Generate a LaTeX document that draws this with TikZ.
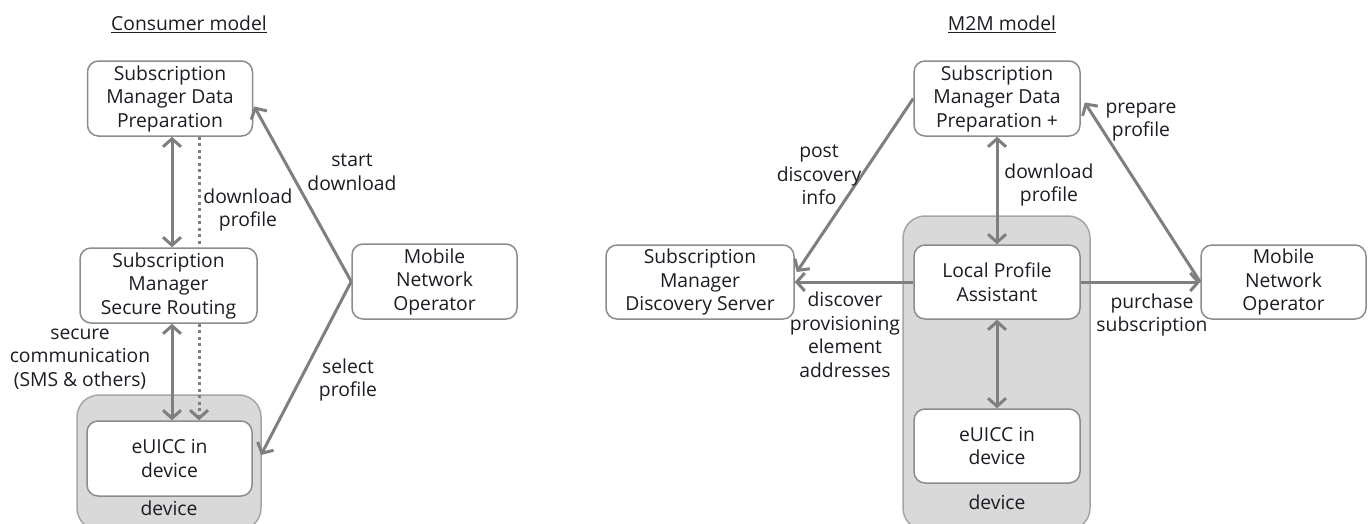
\documentclass[tikz,border=0pt]{standalone}
\usepackage{fontspec}
\setmainfont{Open Sans}
\usetikzlibrary{arrows.meta,calc}
\definecolor{txt}{HTML}{1C1C24}
\definecolor{arrowgray}{HTML}{7F7F7F}
\definecolor{boxline}{HTML}{8C8C8C}
\definecolor{devfill}{HTML}{D9D9D9}
\definecolor{devline}{HTML}{A6A6A6}
\tikzset{
  every node/.style={text=txt, font=\fontsize{19.3}{23.5}\selectfont, align=center, inner sep=0pt},
  entity/.style={draw=boxline, line width=1.5pt, fill=white, rounded corners=11pt},
  devicebox/.style={draw=devline, line width=1.5pt, fill=devfill, rounded corners=22pt},
  conn/.style={draw=arrowgray, line width=3pt},
  tip/.style={-{Straight Barb[length=8pt,width=18pt,line width=3pt]}},
  bothtips/.style={{Straight Barb[length=8pt,width=18pt,line width=3pt]}-{Straight Barb[length=8pt,width=18pt,line width=3pt]}},
  dotline/.style={draw=arrowgray, line width=3pt, dash pattern=on 3pt off 3.5pt},
}
\begin{document}
\begin{tikzpicture}[x=1pt,y=-1pt]
\useasboundingbox (0,0) rectangle (1372,523);
\begin{scope}
\clip (0,0) rectangle (1372,523);

% ---------- Consumer model ----------
\node (titleL) at (189,24) {\underline{Consumer model}};

\draw[devicebox] (77,395) rectangle (261,530);
\node (devL) at (169,508) {device};
\coordinate (devLeast) at (261,455);

\node[entity, minimum width=165pt, minimum height=75pt] (smdp) at (170,98.5)
  {Subscription\\Manager Data\\Preparation};
\node[entity, minimum width=177pt, minimum height=75pt] (smsr) at (168.5,285.5)
  {Subscription\\Manager\\Secure Routing};
\node[entity, minimum width=165pt, minimum height=75pt] (mno) at (434.5,281.5)
  {Mobile\\Network\\Operator};
\node[entity, minimum width=165pt, minimum height=75pt] (eul) at (169.5,458.5)
  {eUICC in\\device};

\coordinate (xa) at (172,0);
\coordinate (xb) at (199,0);

\draw[conn, bothtips] (smdp.south -| xa) -- (smsr.north -| xa);
\draw[conn, bothtips] (smsr.south -| xa) -- (eul.north -| xa);
\draw[dotline] (smdp.south -| xb) -- (smsr.north -| xb);
\draw[dotline, tip] (smsr.south -| xb) -- (eul.north -| xb);
\draw[conn, tip] (mno.west) -- ($(smdp.east)+(1,8)$);
\draw[conn, tip] (mno.west) -- (devLeast);

\node (l1) at (248,210) {download\\profile};
\node (l2) at (352,172) {start\\download};
\node (l3) at (348,380) {select\\profile};
\node (l4) at (80,359) {secure\\communication\\(SMS \& others)};

% ---------- M2M model ----------
\node (titleR) at (1002,24) {\underline{M2M model}};

\draw[devicebox] (903,216) rectangle (1090,530);
\node (devR) at (997,502) {device};

\node[entity, minimum width=166pt, minimum height=75pt] (smdpR) at (997,98.5)
  {Subscription\\Manager Data\\Preparation +};
\node[entity, minimum width=188pt, minimum height=74pt] (smds) at (700,282)
  {Subscription\\Manager\\Discovery Server};
\node[entity, minimum width=166pt, minimum height=74pt] (lpa) at (997,282)
  {Local Profile\\Assistant};
\node[entity, minimum width=166pt, minimum height=74pt] (euR) at (997,446)
  {eUICC in\\device};
\node[entity, minimum width=165pt, minimum height=74pt] (mnoR) at (1283.5,282)
  {Mobile\\Network\\Operator};

\draw[conn, bothtips] (smdpR.south) -- (lpa.north);
\draw[conn, bothtips] (lpa.south) -- (euR.north);
\draw[conn, tip] (lpa.west) -- (smds.east);
\draw[conn, tip] (lpa.east) -- (mnoR.west);
\draw[conn, tip] (smdpR.west) -- ($(smds.east)+(2,-10)$);
\draw[conn, tip] (mnoR.west) -- ($(smdpR.east)+(4,4)$);

\node (r1) at (819,175) {post\\discovery\\info};
\node (r2) at (1049,185) {download\\profile};
\node (r3) at (1141,122) {prepare\\profile};
\node (r4) at (845,335) {discover\\provisioning\\element\\addresses};
\node (r5) at (1152,315) {purchase\\subscription};
\end{scope}
\end{tikzpicture}
\end{document}
